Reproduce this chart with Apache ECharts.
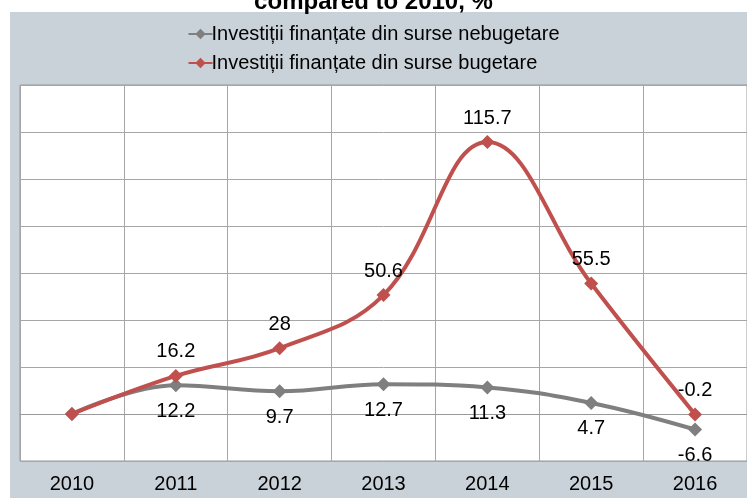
<!DOCTYPE html>
<html>
<head>
<meta charset="utf-8">
<script src="https://cdn.jsdelivr.net/npm/echarts@6/dist/echarts.min.js"></script>
<style>
  html, body { margin: 0; padding: 0; background: #fff; }
  #chart { width: 747px; height: 498px; }
</style>
</head>
<body>
<div id="chart"></div>
<script>
const years = ['2010', '2011', '2012', '2013', '2014', '2015', '2016']
const nebugetare = [0, 12.2, 9.7, 12.7, 11.3, 4.7, -6.6]
const bugetare = [0, 16.2, 28, 50.6, 115.7, 55.5, -0.2]
const seriesNames = ['Investiții finanțate din surse nebugetare', 'Investiții finanțate din surse bugetare']

const font = 'Arial, "Liberation Sans", sans-serif'
const chart = echarts.init(document.getElementById('chart'))

// base year (2010) has no data label
const withLabels = arr => arr.map((v, i) => i === 0 ? { value: v, label: { show: false } } : v)

chart.setOption({
    animation: false,
    textStyle: { fontFamily: font },
    graphic: [{
        type: 'rect',
        z: -10,
        shape: { x: 10, y: 12, width: 740, height: 490 },
        style: { fill: '#c8d2d8' }
    }],
    title: {
        text: 'compared to 2010, %',
        left: 'center',
        top: -15,
        textStyle: { fontSize: 24, fontWeight: 'bold', color: '#000', fontFamily: font }
    },
    legend: {
        top: 19,
        left: 'center',
        orient: 'vertical',
        itemGap: 9,
        itemWidth: 24,
        itemHeight: 13,
        textStyle: { fontSize: 20, color: '#000', padding: [0, 0, 0, -6] },
        data: seriesNames
    },
    grid: {
        left: 20, top: 85, right: 0, bottom: 37,
        show: true,
        backgroundColor: '#fff',
        borderColor: '#999',
        borderWidth: 1
    },
    xAxis: {
        type: 'category',
        data: years,
        boundaryGap: true,
        axisLine: { show: true, lineStyle: { color: '#999' } },
        axisTick: { show: false },
        axisLabel: { fontSize: 20, color: '#000', margin: 13 },
        splitLine: { show: true, interval: 0, lineStyle: { color: '#a6a6a6', width: 1 } }
    },
    yAxis: {
        type: 'value',
        min: -20, max: 140, interval: 20,
        axisLabel: { show: false },
        axisLine: { show: false },
        axisTick: { show: false },
        splitLine: { lineStyle: { color: '#a6a6a6', width: 1 } }
    },
    series: [{
        name: seriesNames[0],
        type: 'line',
        data: withLabels(nebugetare),
        smooth: 0.4,
        symbol: 'diamond',
        symbolSize: 14,
        color: '#7f7f7f',
        lineStyle: { width: 4, color: '#7f7f7f' },
        label: { show: true, position: 'bottom', distance: 9, fontSize: 20, color: '#000' }
    }, {
        name: seriesNames[1],
        type: 'line',
        data: withLabels(bugetare),
        smooth: 0.4,
        symbol: 'diamond',
        symbolSize: 14,
        color: '#c0504d',
        lineStyle: { width: 4, color: '#c0504d' },
        label: { show: true, position: 'top', distance: 7, fontSize: 20, color: '#000' }
    }]
})
</script>
</body>
</html>
